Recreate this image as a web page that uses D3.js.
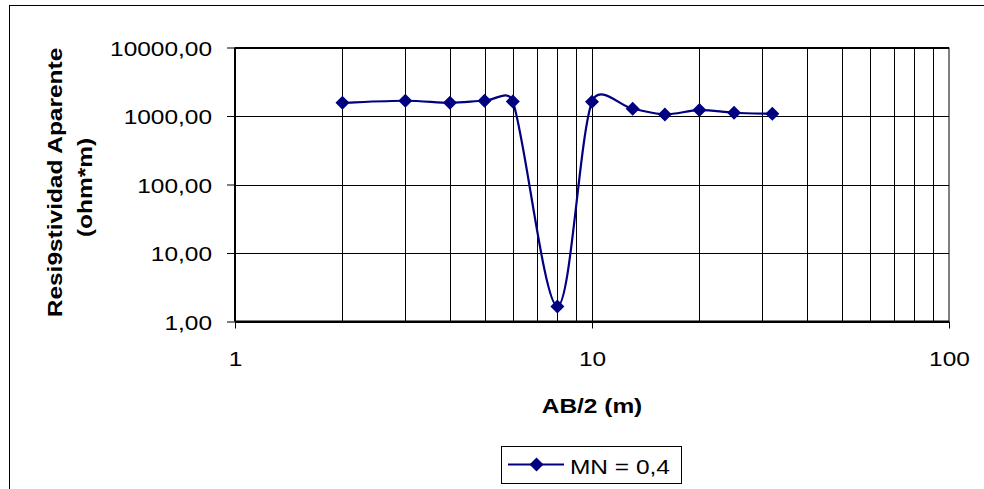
<!DOCTYPE html>
<html><head><meta charset="utf-8">
<script src="https://cdn.jsdelivr.net/npm/d3@7"></script>
<style>
body{margin:0;background:#fff}
svg{display:block}
text{font-family:Arial,"Liberation Sans",sans-serif;fill:#000}
</style>
</head><body>
<svg id="chart" width="984" height="489"></svg>
<script>
// ---- data ----
const abHalf = [2, 3, 4, 5, 6, 8, 10, 13, 16, 20, 25, 32];
const resistivity = [1560, 1670, 1560, 1670, 1630, 1.66, 1610, 1275, 1055, 1220, 1115, 1075];
const seriesName = "MN = 0,4";
const xTickValues = [1, 10, 100];
const yTickValues = [1, 10, 100, 1000, 10000];
const xGridValues = [2, 3, 4, 5, 6, 7, 8, 9, 10, 20, 30, 40, 50, 60, 70, 80, 90];
const yTitleLines = ["Resi9stividad Aparente", "(ohm*m)"];
const xTitle = "AB/2 (m)";

// ---- layout ----
const SX = 1.165;     // horizontal text stretch seen in the reference
const FS = 21;
const L = 235, R = 949, T = 47.5, B = 321.5;
const navy = "#000080";

const svg = d3.select("#chart");
const x = d3.scaleLog().domain([1, 100]).range([L, R]);
const y = d3.scaleLog().domain([1, 10000]).range([B, T]);
const fmtY = v => d3.format(".2f")(v).replace(".", ",");

// outer chart border
svg.append("rect").attr("x", 9.5).attr("y", 5.5).attr("width", 1000).attr("height", 500)
  .attr("fill", "none").attr("stroke", "#000").attr("stroke-width", 1);

// grid
const g = svg.append("g");
g.selectAll(".vg").data(xGridValues).join("line")
  .attr("x1", d => Math.round(x(d)) + 0.5).attr("x2", d => Math.round(x(d)) + 0.5)
  .attr("y1", T).attr("y2", B)
  .attr("stroke", "#000").attr("stroke-width", 1);
g.selectAll(".hg").data(yTickValues).join("line")
  .attr("x1", L).attr("x2", R)
  .attr("y1", d => Math.round(y(d)) + 0.5).attr("y2", d => Math.round(y(d)) + 0.5)
  .attr("stroke", "#000").attr("stroke-width", 1);
// plot frame top/right
g.append("line").attr("x1", L).attr("x2", R).attr("y1", T).attr("y2", T).attr("stroke", "#000");
g.append("line").attr("x1", R).attr("x2", R).attr("y1", T).attr("y2", B).attr("stroke", "#000");

// axes
const yAxis = d3.axisLeft(y).tickValues(yTickValues).tickFormat(fmtY).tickSize(8).tickPadding(0);
const yA = svg.append("g").attr("transform", `translate(${L},0)`).call(yAxis);
yA.select(".domain").attr("stroke", "#000").attr("stroke-width", 2).attr("d", `M0,${T}V${B}`);
yA.selectAll(".tick line").attr("stroke", "#000");
yA.selectAll(".tick text")
  .attr("font-size", FS).attr("text-anchor", "end")
  .attr("x", -23 / SX).attr("dy", null).attr("y", 7.5)
  .attr("transform", `scale(${SX},1)`);

const xAxis = d3.axisBottom(x).tickValues(xTickValues).tickFormat(d3.format("d")).tickSize(7).tickPadding(0);
const xA = svg.append("g").attr("transform", `translate(0,${B})`).call(xAxis);
xA.select(".domain").attr("stroke", "#000").attr("stroke-width", 2).attr("d", `M${L},0H${R}`);
xA.selectAll(".tick line").attr("stroke", "#000");
xA.selectAll(".tick text")
  .attr("font-size", FS).attr("text-anchor", "middle")
  .attr("dy", null).attr("y", 366 - B)
  .attr("transform", `scale(${SX},1)`);

// axis titles
svg.append("text").attr("transform", `translate(${(L + R) / 2},413) scale(${SX},1)`)
  .attr("text-anchor", "middle").attr("font-size", FS).attr("font-weight", "bold").text(xTitle);

const yt = svg.append("g").attr("transform", `translate(0,${(T + B) / 2}) rotate(-90)`);
yt.append("text").attr("transform", `translate(2,62) scale(${SX},1)`)
  .attr("text-anchor", "middle").attr("font-size", FS).attr("font-weight", "bold").text(yTitleLines[0]);
yt.append("text").attr("transform", `translate(-3,92) scale(${SX},1)`)
  .attr("text-anchor", "middle").attr("font-size", FS).attr("font-weight", "bold").text(yTitleLines[1]);

// Excel-style smoothed line
function excelSmooth(pts) {
  const p = d3.path();
  const dist = (a, b) => Math.hypot(b[0] - a[0], b[1] - a[1]);
  p.moveTo(pts[0][0], pts[0][1]);
  const n = pts.length;
  for (let i = 0; i < n - 1; i++) {
    const p0 = pts[Math.max(i - 1, 0)], p1 = pts[i], p2 = pts[i + 1], p3 = pts[Math.min(i + 2, n - 1)];
    const d12 = dist(p1, p2), d02 = dist(p0, p2), d13 = dist(p1, p3);
    let f0 = 1 / 6, f1 = 1 / 6;
    if (d02 / 6 > d12 / 2) f0 = d02 > 0 ? d12 / (2 * d02) : 0;
    if (d13 / 6 > d12 / 2) f1 = d13 > 0 ? d12 / (2 * d13) : 0;
    const c1 = [p1[0] + (p2[0] - p0[0]) * f0, p1[1] + (p2[1] - p0[1]) * f0];
    const c2 = [p2[0] - (p3[0] - p1[0]) * f1, p2[1] - (p3[1] - p1[1]) * f1];
    p.bezierCurveTo(c1[0], c1[1], c2[0], c2[1], p2[0], p2[1]);
  }
  return p.toString();
}
const pts = abHalf.map((d, i) => [x(d), y(resistivity[i])]);
svg.append("path").attr("d", excelSmooth(pts))
  .attr("fill", "none").attr("stroke", navy).attr("stroke-width", 2.2);

const diamond = "M0,-7L7,0L0,7L-7,0Z";
svg.selectAll(".pt").data(abHalf).join("path")
  .attr("transform", (d, i) => `translate(${x(d)},${y(resistivity[i])})`)
  .attr("d", diamond).attr("fill", navy);

// legend
const lg = svg.append("g");
lg.append("rect").attr("x", 501.5).attr("y", 446.5).attr("width", 180).attr("height", 37)
  .attr("fill", "#fff").attr("stroke", "#000");
lg.append("line").attr("x1", 508).attr("x2", 564).attr("y1", 464.5).attr("y2", 464.5)
  .attr("stroke", navy).attr("stroke-width", 2.2);
lg.append("path").attr("transform", "translate(536.5,464.5)").attr("d", diamond).attr("fill", navy);
lg.append("text").attr("transform", `translate(570,474) scale(${SX},1)`)
  .attr("font-size", FS).text(seriesName);
</script>
</body></html>
